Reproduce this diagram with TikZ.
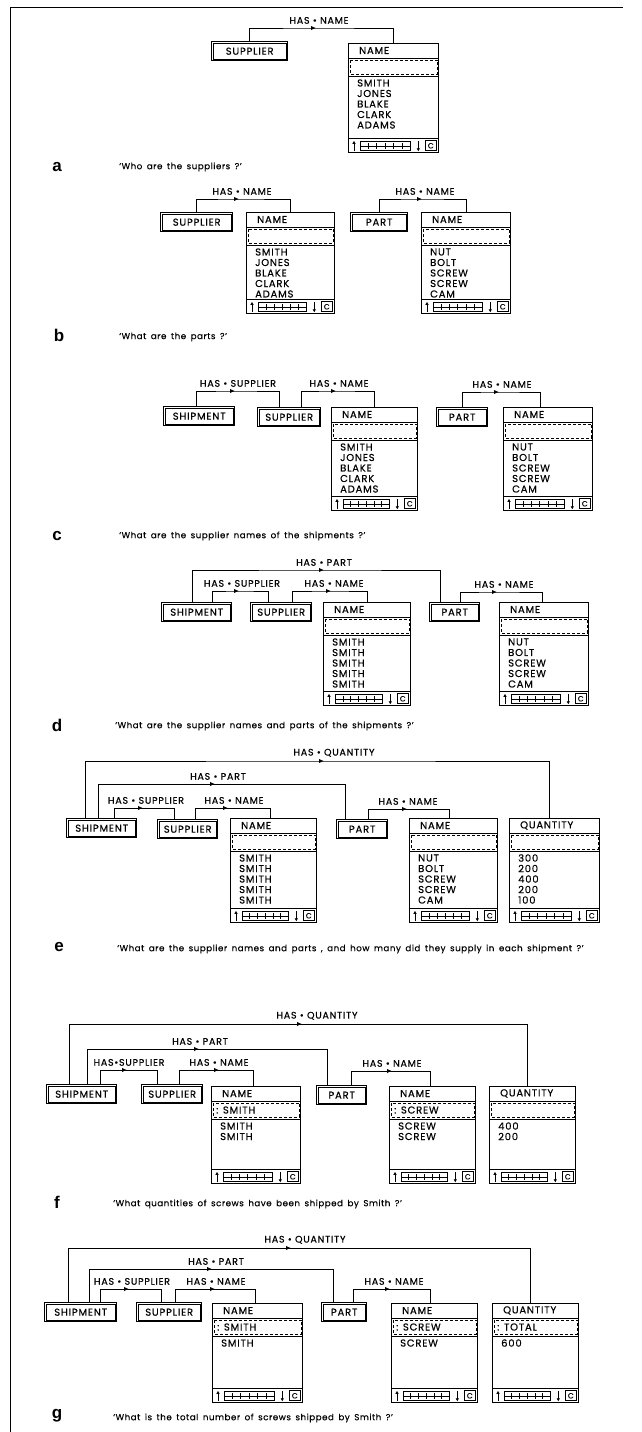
\documentclass[tikz,border=0pt]{standalone}
\usepackage{fontspec}
\setmainfont{Poppins}
\newfontfamily\labelfont{Poppins}[LetterSpace=8, FakeBold=0.4]
\newfontfamily\questfont{Poppins}[LetterSpace=6, WordSpace=1.6, FakeBold=0.2]
\newfontfamily\lettrefont{Liberation Sans}
\usetikzlibrary{arrows.meta,calc}

\tikzset{
  lien/.style={line width=1pt},
  pointe/.style={-{Latex[length=5pt,width=4.5pt]}, line width=1pt},
  etiquette/.style={font=\labelfont\fontsize{9.5}{10}\selectfont, inner sep=0.5pt, anchor=south},
  entite/.style={draw, line width=1.4pt, anchor=north west, inner sep=0pt,
                 minimum height=19pt, font=\labelfont\fontsize{10}{10}\selectfont},
  relation/.style={draw, line width=1.3pt, anchor=north west, inner sep=0pt},
  ligne/.style={anchor=west, inner sep=0pt, font=\labelfont\fontsize{10}{10}\selectfont},
  question/.style={anchor=west, inner sep=0pt, font=\questfont\fontsize{8.7}{10}\selectfont},
  lettre/.style={inner sep=0pt, font=\lettrefont\bfseries\fontsize{17}{17}\selectfont},
}

% Boite d'entite : trait epais et filet interieur
\newcommand\entitybox[4]{%
  \node[entite, minimum width=#3pt] (#1) at #2 {#4};
  \draw[line width=0.6pt] ([shift={(2.4pt,-2.4pt)}]#1.north west)
    rectangle ([shift={(-2.4pt,2.4pt)}]#1.south east);}

% Tableau de relation : titre, zone de selection, liste, barre de defilement
\newcommand\relationbox[5]{%
  \node[relation, minimum width=#3pt, minimum height=#4pt] (#1) at #2 {};
  \draw[line width=0.9pt]
    ([yshift=-15pt]#1.north west) -- ([yshift=-15pt]#1.north east)
    ([yshift=-33pt]#1.north west) -- ([yshift=-33pt]#1.north east)
    ([yshift=15pt]#1.south west) -- ([yshift=15pt]#1.south east);
  \draw[line width=0.9pt, dash pattern=on 3pt off 2pt]
    ([shift={(2pt,-17pt)}]#1.north west) rectangle ([shift={(-2pt,-31pt)}]#1.north east);
  \node[ligne] at ([shift={(11pt,-7.5pt)}]#1.north west) {#5};
  \draw[-{Latex[length=3pt,width=3.6pt]}, line width=1pt]
    ([shift={(6pt,2pt)}]#1.south west) -- ([shift={(6pt,12.5pt)}]#1.south west);
  \draw[line width=0.7pt] ([shift={(12pt,3pt)}]#1.south west)
    rectangle ([shift={(-29pt,12pt)}]#1.south east);
  \coordinate (#1-g) at ([shift={(12pt,7.5pt)}]#1.south west);
  \coordinate (#1-d) at ([shift={(-29pt,7.5pt)}]#1.south east);
  \draw[line width=0.6pt] (#1-g) -- (#1-d);
  \foreach \k in {1,...,5}
    \draw[line width=0.6pt] ($(#1-g)!\k/6!(#1-d)$) ++(0pt,-3pt) -- ++(0pt,6pt);
  \draw[-{Latex[length=3pt,width=3.6pt]}, line width=1pt]
    ([shift={(-21pt,12.5pt)}]#1.south east) -- ([shift={(-21pt,2pt)}]#1.south east);
  \draw[line width=0.7pt] ([shift={(-14pt,2.5pt)}]#1.south east)
    rectangle ([shift={(-3pt,12.5pt)}]#1.south east);
  \node[inner sep=0pt, font=\labelfont\fontsize{7.5}{7.5}\selectfont]
    at ([shift={(-8.5pt,7.5pt)}]#1.south east) {C};}

% Lignes de la liste et texte de la zone de selection
\newcommand\relrows[2]{%
  \foreach \val [count=\k from 0] in {#2}
    \node[ligne] at ([xshift=9pt, yshift={-40pt-10.5pt*\k}]#1.north west) {\val};}
\newcommand\selrow[2]{%
  \node[ligne] at ([shift={(5pt,-24pt)}]#1.north west) {#2};}

% Lien HAS : depart, point de la fleche, arrivee, etiquette
\newcommand\haslink[5][3pt]{%
  \draw[lien] #2 |- (#3) -| #4;
  \draw[pointe] ([xshift=-5pt]#3) -- (#3);
  \node[etiquette] at ([xshift=#1, yshift=3.5pt]#3) {#5};}

\begin{document}
\begin{tikzpicture}[x=1pt, y=-1pt]
  \useasboundingbox (0,0) rectangle (642,1432);
  \fill[white] (0,0) rectangle (642,1432);
  % Cadre de la page
  \draw[line width=0.8pt] (10,1432) -- (10,7) -- (623,7);

  % a : fournisseurs
  \entitybox{supA}{(211,41)}{76}{SUPPLIER}
  \relationbox{nameA}{(348,43)}{90}{109}{NAME}
  \relrows{nameA}{SMITH,JONES,BLAKE,CLARK,ADAMS}
  \haslink{(supA.north)}{316,28}{(nameA.north)}{HAS • NAME}
  \node[lettre] (lettreA) at (57,167) {a};
  \node[question] (questA) at (119,167) {‘Who are the suppliers ?’};

  % b : pieces
  \entitybox{supB}{(160,212)}{72}{SUPPLIER}
  \relationbox{nameB}{(246,212)}{88}{101}{NAME}
  \relrows{nameB}{SMITH,JONES,BLAKE,CLARK,ADAMS}
  \haslink{(supB.north)}{239,199}{(nameB.north)}{HAS • NAME}
  \entitybox{partB}{(350,212)}{57}{PART}
  \relationbox{nameBp}{(421,212)}{89}{101}{NAME}
  \relrows{nameBp}{NUT,BOLT,SCREW,SCREW,CAM}
  \haslink{(partB.north)}{422,199}{(nameBp.north)}{HAS • NAME}
  \node[lettre] (lettreB) at (59,335) {b};
  \node[question] (questB) at (119,337) {‘What are the parts ?’};

  % c : noms des fournisseurs des livraisons
  \entitybox{shipC}{(163,406)}{71}{SHIPMENT}
  \entitybox{supC}{(257,407)}{63}{SUPPLIER}
  \relationbox{nameC}{(331,407)}{86}{103}{NAME}
  \relrows{nameC}{SMITH,JONES,BLAKE,CLARK,ADAMS}
  \entitybox{partC}{(436,407)}{51}{PART}
  \relationbox{nameCp}{(503,407)}{89}{103}{NAME}
  \relrows{nameCp}{NUT,BOLT,SCREW,SCREW,CAM}
  \haslink{([xshift=-3pt]shipC.north)}{235,391}{([xshift=-9.5pt]supC.north)}{HAS • SUPPLIER}
  \haslink{([xshift=12.5pt]supC.north)}{336,391}{(nameC.north)}{HAS • NAME}
  \haslink{(partC.north)}{499,392}{([xshift=-7.5pt]nameCp.north)}{HAS • NAME}
  \node[lettre] (lettreC) at (57,536) {c};
  \node[question] (questC) at (119,536) {‘What are the supplier names of the shipments ?’};

  % d : noms des fournisseurs et pieces des livraisons
  \entitybox{shipD}{(161,602)}{70}{SHIPMENT}
  \entitybox{supD}{(250,602)}{61}{SUPPLIER}
  \relationbox{nameD}{(323,602)}{87}{103}{NAME}
  \relrows{nameD}{SMITH,SMITH,SMITH,SMITH,SMITH}
  \entitybox{partD}{(429,602)}{50}{PART}
  \relationbox{nameDp}{(499,602)}{89}{103}{NAME}
  \relrows{nameDp}{NUT,BOLT,SCREW,SCREW,CAM}
  \haslink[0pt]{([xshift=-4pt]shipD.north)}{324,570}{([xshift=-14pt]partD.north)}{HAS • PART}
  \haslink{([xshift=16pt]shipD.north)}{239,591}{([xshift=-12.5pt]supD.north)}{HAS • SUPPLIER}
  \haslink{([xshift=11.5pt]supD.north)}{331,591}{(nameD.north)}{HAS • NAME}
  \haslink[7pt]{([xshift=6pt]partD.north)}{497,592}{([xshift=-1.5pt]nameDp.north)}{HAS • NAME}
  \node[lettre] (lettreD) at (57,725) {d};
  \node[question] (questD) at (115,726) {‘What are the supplier names and parts of the shipments ?’};

  % e : avec les quantites
  \entitybox{shipE}{(66,818)}{70}{SHIPMENT}
  \entitybox{supE}{(157,819)}{60}{SUPPLIER}
  \relationbox{nameE}{(230,818)}{86}{104}{NAME}
  \relrows{nameE}{SMITH,SMITH,SMITH,SMITH,SMITH}
  \entitybox{partE}{(336,819)}{51}{PART}
  \relationbox{nameEp}{(409,818)}{88}{104}{NAME}
  \relrows{nameEp}{NUT,BOLT,SCREW,SCREW,CAM}
  \relationbox{qtyE}{(509,818)}{90}{104}{QUANTITY}
  \relrows{qtyE}{300,200,400,200,100}
  \haslink[10pt]{([xshift=-16pt]shipE.north)}{324,761}{([xshift=-5pt]qtyE.north)}{HAS • QUANTITY}
  \haslink{([xshift=-3pt]shipE.north)}{215,784}{([xshift=-16.5pt]partE.north)}{HAS • PART}
  \haslink{([xshift=13pt]shipE.north)}{143,808}{([xshift=-13pt]supE.north)}{HAS • SUPPLIER}
  \haslink[6pt]{([xshift=8pt]supE.north)}{228,808}{([xshift=-3pt]nameE.north)}{HAS • NAME}
  \haslink[1pt]{([xshift=6.5pt]partE.north)}{407,809}{([xshift=-4pt]nameEp.north)}{HAS • NAME}
  \node[lettre] (lettreE) at (59,947) {e};
  \node[question] (questE) at (117,949) {‘What are the supplier names and parts , and how many did they supply in each shipment ?’};

  % f : quantites de vis livrees par Smith
  \entitybox{shipF}{(46,1084)}{70}{SHIPMENT}
  \entitybox{supF}{(141,1084)}{61}{SUPPLIER}
  \relationbox{nameF}{(211,1086)}{89}{97}{NAME}
  \selrow{nameF}{: SMITH}
  \relrows{nameF}{SMITH,SMITH}
  \entitybox{partF}{(316,1085)}{50}{PART}
  \relationbox{nameFp}{(389,1086)}{86}{97}{NAME}
  \selrow{nameFp}{: SCREW}
  \relrows{nameFp}{SCREW,SCREW}
  \relationbox{qtyF}{(489,1086)}{86}{97}{QUANTITY}
  \relrows{qtyF}{400,200}
  \haslink[15pt]{([xshift=-12pt]shipF.north)}{302,1024}{([xshift=-5pt]qtyF.north)}{HAS • QUANTITY}
  \haslink[1pt]{([xshift=6pt]shipF.north)}{199,1049}{([xshift=-14pt]partF.north)}{HAS • PART}
  \haslink[2pt]{([xshift=19pt]shipF.north)}{127,1070}{([xshift=-14.5pt]supF.north)}{HAS•SUPPLIER}
  \haslink[0pt]{([xshift=7.5pt]supF.north)}{219,1070}{([xshift=-2.5pt]nameF.north)}{HAS • NAME}
  \haslink[0pt]{([xshift=10pt]partF.north)}{392,1071}{([xshift=-2pt]nameFp.north)}{HAS • NAME}
  \node[lettre] (lettreF) at (57,1202) {f};
  \node[question] (questF) at (113,1204) {‘What quantities of screws have been shipped by Smith ?’};

  % g : nombre total de vis livrees par Smith
  \entitybox{shipG}{(44,1302)}{72}{SHIPMENT}
  \entitybox{supG}{(136,1302)}{65}{SUPPLIER}
  \relationbox{nameG}{(212,1303)}{90}{99}{NAME}
  \selrow{nameG}{: SMITH}
  \relrows{nameG}{SMITH}
  \entitybox{partG}{(321,1302)}{45}{PART}
  \relationbox{nameGp}{(391,1303)}{86}{99}{NAME}
  \selrow{nameGp}{: SCREW}
  \relrows{nameGp}{SCREW}
  \relationbox{qtyG}{(492,1303)}{86}{99}{QUANTITY}
  \selrow{qtyG}{: TOTAL}
  \relrows{qtyG}{600}
  \haslink[14pt]{([xshift=-12pt]shipG.north)}{291,1248}{([xshift=-5pt]qtyG.north)}{HAS • QUANTITY}
  \haslink[4pt]{([xshift=9pt]shipG.north)}{212,1269}{([xshift=-10.5pt]partG.north)}{HAS • PART}
  \haslink{([xshift=20pt]shipG.north)}{129,1289}{([xshift=-7.5pt]supG.north)}{HAS • SUPPLIER}
  \haslink[1pt]{([xshift=6.5pt]supG.north)}{215,1289}{([xshift=-2pt]nameG.north)}{HAS • NAME}
  \haslink[4pt]{([xshift=9.5pt]partG.north)}{390,1289}{([xshift=-4pt]nameGp.north)}{HAS • NAME}
  \node[lettre] (lettreG) at (57,1416) {g};
  \node[question] (questG) at (113,1418) {‘What is the total number of screws shipped by Smith ?’};
\end{tikzpicture}
\end{document}
